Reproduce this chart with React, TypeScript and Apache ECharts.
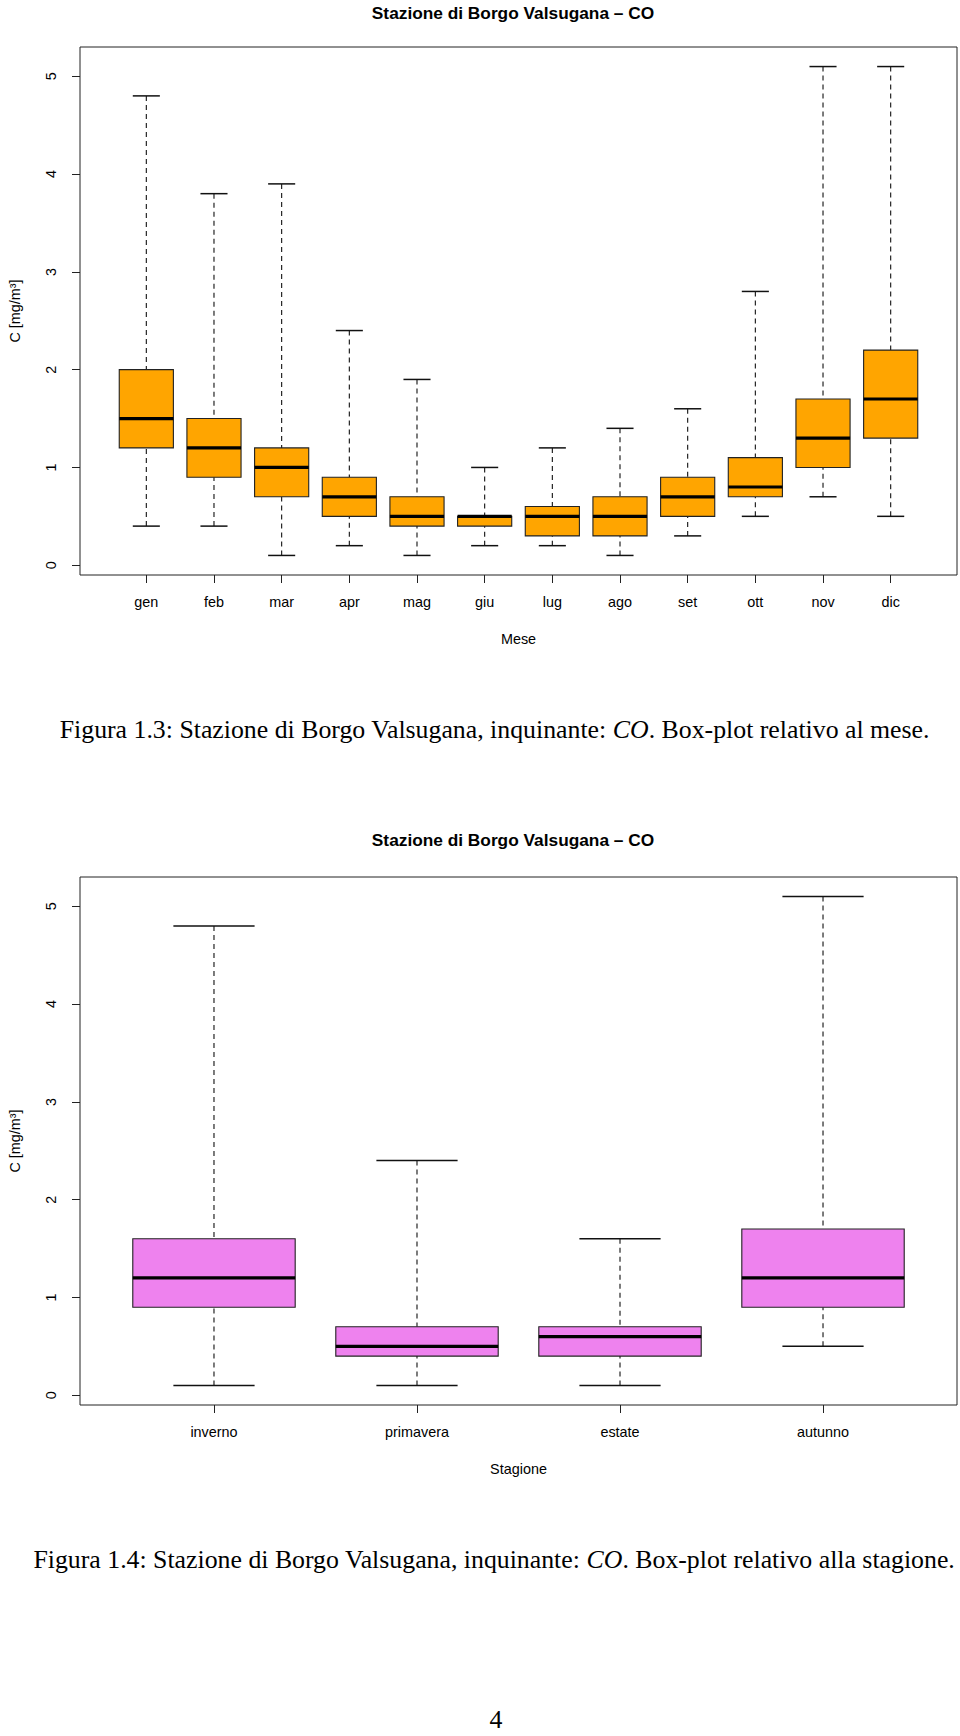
import React, { useEffect, useRef } from "react";
import * as echarts from "echarts";

// ---------- data ----------
const months = ["gen", "feb", "mar", "apr", "mag", "giu", "lug", "ago", "set", "ott", "nov", "dic"];
const monthMin = [0.4, 0.4, 0.1, 0.2, 0.1, 0.2, 0.2, 0.1, 0.3, 0.5, 0.7, 0.5];
const monthQ1 = [1.2, 0.9, 0.7, 0.5, 0.4, 0.4, 0.3, 0.3, 0.5, 0.7, 1.0, 1.3];
const monthMedian = [1.5, 1.2, 1.0, 0.7, 0.5, 0.5, 0.5, 0.5, 0.7, 0.8, 1.3, 1.7];
const monthQ3 = [2.0, 1.5, 1.2, 0.9, 0.7, 0.5, 0.6, 0.7, 0.9, 1.1, 1.7, 2.2];
const monthMax = [4.8, 3.8, 3.9, 2.4, 1.9, 1.0, 1.2, 1.4, 1.6, 2.8, 5.1, 5.1];

const seasons = ["inverno", "primavera", "estate", "autunno"];
const seasonMin = [0.1, 0.1, 0.1, 0.5];
const seasonQ1 = [0.9, 0.4, 0.4, 0.9];
const seasonMedian = [1.2, 0.5, 0.6, 1.2];
const seasonQ3 = [1.6, 0.7, 0.7, 1.7];
const seasonMax = [4.8, 2.4, 1.6, 5.1];

const yTicks = [0, 1, 2, 3, 4, 5];

const chartTitle = "Stazione di Borgo Valsugana – CO";
const yName = "C [mg/m³]";
const caption1 = ["Figura 1.3: Stazione di Borgo Valsugana, inquinante: ", "CO", ". Box-plot relativo al mese."];
const caption2 = ["Figura 1.4: Stazione di Borgo Valsugana, inquinante: ", "CO", ". Box-plot relativo alla stagione."];
const pageNumber = "4";

// ---------- styles ----------
const SANS = "'Liberation Sans', Arial, Helvetica, sans-serif";
const SERIF = "'Liberation Serif', 'Times New Roman', Times, serif";
const LABEL_SIZE = 14.4;
const INK = "#111";

const allVals = [...monthMin, ...monthMax, ...seasonMin, ...seasonMax];
const dMin = Math.min(...allVals);
const dMax = Math.max(...allVals);
const yMin = dMin - 0.04 * (dMax - dMin);
const yMax = dMax + 0.04 * (dMax - dMin);

function makeRender(fill: string) {
  return (params: any, api: any) => {
    const x = api.value(0);
    const pMin = api.coord([x, api.value(1)]);
    const pQ1 = api.coord([x, api.value(2)]);
    const pMed = api.coord([x, api.value(3)]);
    const pQ3 = api.coord([x, api.value(4)]);
    const pMax = api.coord([x, api.value(5)]);
    const bw = api.size([0.8, 0])[0];
    const cx = pMed[0];
    const half = bw / 2;
    const cap = bw / 4;
    const dash = { stroke: INK, lineWidth: 1.1, lineDash: [5, 4], fill: null };
    const solid = { stroke: INK, lineWidth: 1.5, fill: null };
    return {
      type: "group",
      children: [
        { type: "line", shape: { x1: cx, y1: pMax[1], x2: cx, y2: pQ3[1] }, style: dash },
        { type: "line", shape: { x1: cx, y1: pMin[1], x2: cx, y2: pQ1[1] }, style: dash },
        { type: "line", shape: { x1: cx - cap, y1: pMax[1], x2: cx + cap, y2: pMax[1] }, style: solid },
        { type: "line", shape: { x1: cx - cap, y1: pMin[1], x2: cx + cap, y2: pMin[1] }, style: solid },
        {
          type: "rect",
          shape: { x: cx - half, y: pQ3[1], width: bw, height: pQ1[1] - pQ3[1] },
          style: { fill, stroke: "#222", lineWidth: 1.1 },
        },
        {
          type: "line",
          shape: { x1: cx - half, y1: pMed[1], x2: cx + half, y2: pMed[1] },
          style: { stroke: "#000", lineWidth: 3.2 },
        },
      ],
    };
  };
}

function mkX(gridIndex: number, cats: string[], name: string) {
  const pos = cats.map((_, i) => i + 1);
  const n = cats.length;
  return {
    type: "value",
    gridIndex,
    min: 0.5 - 0.04 * n,
    max: n + 0.5 + 0.04 * n,
    name,
    nameLocation: "middle",
    nameGap: 57,
    nameTextStyle: { fontFamily: SANS, fontSize: LABEL_SIZE, color: "#000" },
    axisLine: { show: false, onZero: false },
    splitLine: { show: false },
    axisTick: { show: true, length: 8, customValues: pos, lineStyle: { color: "#222", width: 1 } },
    axisLabel: {
      show: true,
      customValues: pos,
      formatter: (v: number) => cats[Math.round(v) - 1] ?? "",
      margin: 20,
      fontFamily: SANS,
      fontSize: LABEL_SIZE,
      color: "#000",
    },
  };
}

function mkY(gridIndex: number) {
  return {
    type: "value",
    gridIndex,
    min: yMin,
    max: yMax,
    name: yName,
    nameLocation: "middle",
    nameGap: 58,
    nameRotate: 90,
    nameTextStyle: { fontFamily: SANS, fontSize: LABEL_SIZE, color: "#000" },
    axisLine: { show: false, onZero: false },
    splitLine: { show: false },
    axisTick: { show: true, length: 8, customValues: yTicks, lineStyle: { color: "#222", width: 1 } },
    axisLabel: {
      show: true,
      customValues: yTicks,
      rotate: 90,
      margin: 22,
      formatter: (v: number) => String(Math.round(v)),
      fontFamily: SANS,
      fontSize: LABEL_SIZE,
      color: "#000",
    },
  };
}

function captionText(parts: string[], x: number, y: number) {
  return {
    type: "text",
    x,
    y,
    style: {
      text: `{n|${parts[0]}}{it|${parts[1]}}{n|${parts[2]}}`,
      align: "center",
      verticalAlign: "middle",
      textAlign: "center",
      textVerticalAlign: "middle",
      fontFamily: SERIF,
      fontSize: 25.8,
      fill: "#000",
      rich: {
        n: { fontFamily: SERIF, fontSize: 25.8, color: "#000" },
        it: { fontFamily: SERIF, fontSize: 25.8, fontStyle: "italic", color: "#000" },
      },
    },
  };
}

export default function App() {
  const ref = useRef<HTMLDivElement>(null);
  useEffect(() => {
    if (!ref.current) return;
    const chart = echarts.init(ref.current, undefined, { renderer: "svg" });
    const monthData = months.map((_, i) => [i + 1, monthMin[i], monthQ1[i], monthMedian[i], monthQ3[i], monthMax[i]]);
    const seasonData = seasons.map((_, i) => [i + 1, seasonMin[i], seasonQ1[i], seasonMedian[i], seasonQ3[i], seasonMax[i]]);
    const titleStyle = { fontFamily: SANS, fontWeight: "bold", fontSize: 17.3, color: "#000" };
    chart.setOption({
      animation: false,
      backgroundColor: "#fff",
      title: [
        { text: chartTitle, left: 513, top: 4, textAlign: "center", padding: 0, textStyle: titleStyle },
        { text: chartTitle, left: 513, top: 831, textAlign: "center", padding: 0, textStyle: titleStyle },
      ],
      grid: [
        { left: 70, top: 47, width: 887, height: 528, show: true, borderColor: "#222", borderWidth: 1, backgroundColor: "transparent" },
        { left: 70, top: 877, width: 887, height: 528, show: true, borderColor: "#222", borderWidth: 1, backgroundColor: "transparent" },
      ],
      xAxis: [mkX(0, months, "Mese"), mkX(1, seasons, "Stagione")],
      yAxis: [mkY(0), mkY(1)],
      series: [
        {
          type: "custom",
          xAxisIndex: 0,
          yAxisIndex: 0,
          renderItem: makeRender("#FFA500"),
          data: monthData,
          encode: { x: 0, y: [1, 2, 3, 4, 5] },
          clip: false,
        },
        {
          type: "custom",
          xAxisIndex: 1,
          yAxisIndex: 1,
          renderItem: makeRender("#EE82EE"),
          data: seasonData,
          encode: { x: 0, y: [1, 2, 3, 4, 5] },
          clip: false,
        },
      ],
      graphic: [
        captionText(caption1, 494.5, 729),
        captionText(caption2, 494, 1559),
        {
          type: "text",
          x: 496,
          y: 1719,
          style: {
            text: pageNumber,
            align: "center",
            verticalAlign: "middle",
            textAlign: "center",
            textVerticalAlign: "middle",
            fontFamily: SERIF,
            fontSize: 25.8,
            fill: "#000",
          },
        },
      ],
    });
    return () => chart.dispose();
  }, []);
  return <div ref={ref} style={{ position: "absolute", left: 0, top: 0, width: 960, height: 1736 }} />;
}
